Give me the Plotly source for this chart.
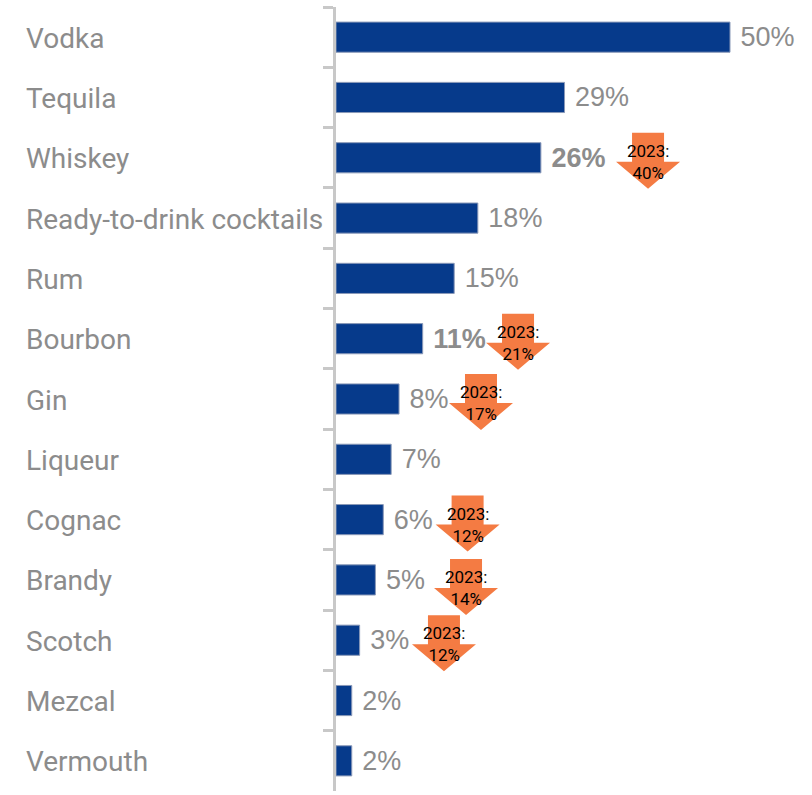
import plotly.graph_objects as go

# Share of respondents by spirit category, 2024
spirits = ["Vodka", "Tequila", "Whiskey", "Ready-to-drink cocktails", "Rum", "Bourbon", "Gin",
           "Liqueur", "Cognac", "Brandy", "Scotch", "Mezcal", "Vermouth"]
shares = [50, 29, 26, 18, 15, 11, 8, 7, 6, 5, 3, 2, 2]
bold_labels = ["Whiskey", "Bourbon"]

# Year-earlier callouts: category, 2023 share, horizontal placement on the share axis, vertical nudge in px
callout_spirits = ["Whiskey", "Bourbon", "Gin", "Cognac", "Brandy", "Scotch"]
callout_2023 = [40, 21, 17, 12, 14, 12]
callout_x = [39.6, 23.1, 18.4, 16.7, 16.5, 13.7]
callout_nudge = [0, 0, 0, 1, 4, 0]

PLOT_LEFT = 336
PLOT_WIDTH = 812 - PLOT_LEFT
PX_PER_UNIT = 7.88
BLUE = "#063a8b"
GREY = "#8c8c8c"
ORANGE = "#f47b43"
NARROW = "Roboto, sans-serif"

labels = [f"\u00a0<b>{v}%</b>" if s in bold_labels else f"\u00a0{v}%" for s, v in zip(spirits, shares)]

fig = go.Figure(go.Bar(
    x=shares, y=spirits, orientation="h", width=0.5,
    marker=dict(color=BLUE, line=dict(color="#8a99b8", width=1)),
    text=labels, textposition="outside", cliponaxis=False,
    textfont=dict(family="Liberation Sans, Arial, sans-serif", size=27, color=GREY),
    hoverinfo="skip",
))

annotations = [
    dict(text=s, xref="paper", yref="y", x=(26 - PLOT_LEFT) / PLOT_WIDTH, y=s, xanchor="left", yanchor="middle",
         yshift=-1, showarrow=False, xshift=-2, font=dict(family=NARROW, size=28, color=GREY))
    for s in spirits
]
shapes = []
for s, prior, cx, nudge in zip(callout_spirits, callout_2023, callout_x, callout_nudge):
    # Down arrow in pixels around its anchor; pixel-sized shapes measure y upward
    top, shoulder, tip = 25 - nudge, -4 - nudge, -31 - nudge
    path = (f"M -16 {top} L 16 {top} L 16 {shoulder} L 32 {shoulder} L 0 {tip} "
            f"L -32 {shoulder} L -16 {shoulder} Z")
    shapes.append(dict(type="path", path=path, xref="x", yref="y", xsizemode="pixel", ysizemode="pixel",
                       xanchor=cx, yanchor=s, fillcolor=ORANGE, line=dict(width=0), layer="above"))
    annotations.append(dict(text=f"2023:<br>{prior}%", x=cx, y=s, xref="x", yref="y", showarrow=False,
                            yshift=-4 - nudge, font=dict(family=NARROW, size=17, color="black")))

fig.update_layout(
    width=812, height=795, margin=dict(l=PLOT_LEFT, r=0, t=7, b=4),
    paper_bgcolor="white", plot_bgcolor="white", showlegend=False,
    annotations=annotations, shapes=shapes,
    xaxis=dict(range=[0, PLOT_WIDTH / PX_PER_UNIT], visible=False),
    yaxis=dict(autorange="reversed", showgrid=False, showticklabels=False, tickson="boundaries",
               ticks="outside", ticklen=10, tickwidth=3, tickcolor="#c8c8c8",
               showline=True, linecolor="#c8c8c8", linewidth=3),
)
fig.write_html("out.html")
